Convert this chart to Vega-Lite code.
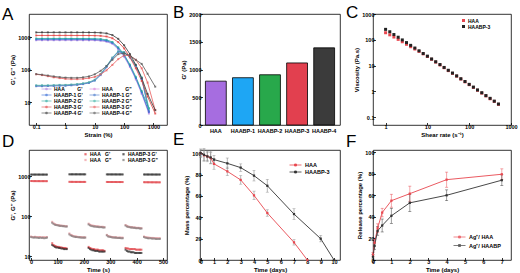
{
 "$schema": "https://vega.github.io/schema/vega-lite/v6.json",
 "background": "white",
 "padding": {"left": 1, "top": 3, "right": 0, "bottom": 0},
 "columns": 3,
 "bounds": "flush",
 "spacing": {"row": 25, "column": 33},
 "resolve": {"scale": {"color": "independent"}, "legend": {"color": "independent"}},
 "config": {
  "font": "Liberation Sans",
  "view": {"stroke": "#000", "strokeWidth": 0.8},
  "axis": {"grid": false, "domain": false, "tickColor": "#000", "tickSize": -2.5, "tickWidth": 0.8, "labelFontSize": 5.5, "labelFontWeight": "bold", "labelColor": "#000", "labelPadding": 1.5, "labelFlush": false, "labelOverlap": false, "titleFontSize": 6, "titleFontWeight": "bold", "titleColor": "#000", "titlePadding": 2},
  "legend": {"labelFontSize": 5, "labelFontWeight": "bold", "labelColor": "#000", "padding": 0, "rowPadding": 0, "columnPadding": 3, "symbolStrokeWidth": 0.8, "labelOffset": 2},
  "title": {"fontSize": 17, "fontWeight": "normal", "anchor": "start", "frame": "group", "dx": -27, "dy": 14, "offset": 0, "color": "#000"}
 },
 "concat": [
  {
   "width": 138, "height": 111,
   "title": {"text": "A"},
   "data": {"values": [
    {"x":0.1,"a1":800,"a2":32,"b1":850,"b2":31,"c1":905,"c2":33,"d1":1120,"d2":72,"e1":1390,"e2":73},
    {"x":0.158,"a1":801,"a2":32,"b1":851,"b2":31,"c1":904,"c2":33,"d1":1121,"d2":68,"e1":1391,"e2":70},
    {"x":0.251,"a1":800,"a2":32,"b1":850,"b2":31.5,"c1":905,"c2":33,"d1":1119,"d2":63,"e1":1389,"e2":66},
    {"x":0.398,"a1":799,"a2":32.5,"b1":849,"b2":31.5,"c1":904,"c2":33.5,"d1":1120,"d2":58,"e1":1390,"e2":62},
    {"x":0.631,"a1":800,"a2":33,"b1":850,"b2":32,"c1":905,"c2":34,"d1":1121,"d2":55,"e1":1391,"e2":59},
    {"x":1,"a1":800,"a2":33,"b1":850,"b2":32,"c1":904,"c2":34,"d1":1120,"d2":52,"e1":1390,"e2":57},
    {"x":1.58,"a1":799,"a2":34,"b1":849,"b2":33,"c1":903,"c2":35,"d1":1119,"d2":51,"e1":1389,"e2":56},
    {"x":2.51,"a1":798,"a2":35,"b1":848,"b2":34,"c1":902,"c2":36,"d1":1118,"d2":51,"e1":1388,"e2":56},
    {"x":3.98,"a1":797,"a2":37,"b1":847,"b2":36,"c1":901,"c2":38,"d1":1117,"d2":52,"e1":1387,"e2":58},
    {"x":6.31,"a1":795,"a2":40,"b1":845,"b2":39,"c1":899,"c2":41,"d1":1115,"d2":55,"e1":1384,"e2":62},
    {"x":10,"a1":790,"a2":48,"b1":840,"b2":46,"c1":893,"c2":49,"d1":1108,"d2":60,"e1":1378,"e2":72},
    {"x":15.8,"a1":770,"a2":72,"b1":818,"b2":68,"c1":872,"c2":74,"d1":1090,"d2":72,"e1":1358,"e2":92},
    {"x":25.1,"a1":720,"a2":125,"b1":768,"b2":118,"c1":820,"c2":128,"d1":1040,"d2":95,"e1":1300,"e2":130},
    {"x":39.8,"a1":620,"a2":230,"b1":662,"b2":220,"c1":705,"c2":235,"d1":920,"d2":140,"e1":1150,"e2":200},
    {"x":63.1,"a1":420,"a2":360,"b1":452,"b2":350,"c1":485,"c2":365,"d1":700,"d2":210,"e1":880,"e2":300},
    {"x":100,"a1":250,"a2":340,"b1":272,"b2":335,"c1":292,"c2":345,"d1":450,"d2":275,"e1":560,"e2":320},
    {"x":158,"a1":120,"a2":240,"b1":132,"b2":238,"c1":142,"c2":245,"d1":240,"d2":270,"e1":300,"e2":270},
    {"x":251,"a1":50,"a2":130,"b1":55,"b2":128,"c1":60,"c2":135,"d1":110,"d2":200,"e1":140,"e2":200},
    {"x":398,"a1":18,"a2":55,"b1":20,"b2":52,"c1":22,"c2":58,"d1":45,"d2":110,"e1":55,"e2":150},
    {"x":631,"a1":null,"a2":null,"b1":null,"b2":null,"c1":null,"c2":null,"d1":15,"d2":40,"e1":18,"e2":75},
    {"x":700,"a1":4.5,"a2":5,"b1":5,"b2":5.5,"c1":6.4,"c2":6.5,"d1":null,"d2":null,"e1":null,"e2":null},
    {"x":1150,"a1":null,"a2":null,"b1":null,"b2":null,"c1":null,"c2":null,"d1":4.5,"d2":5.7,"e1":5.7,"e2":30}
   ]},
   "transform": [
    {"fold": ["a1","a2","b1","b2","c1","c2","d1","d2","e1","e2"], "as": ["k","v"]},
    {"filter": "isValid(datum.v)"},
    {"lookup": "k", "from": {"data": {"values": [
     {"k":"a1","n":"HAA\u00a0\u00a0\u00a0\u00a0\u00a0\u00a0\u00a0\u00a0\u00a0G'"},
     {"k":"a2","n":"HAA\u00a0\u00a0\u00a0\u00a0\u00a0\u00a0\u00a0\u00a0\u00a0G\""},
     {"k":"b1","n":"HAABP-1 G'"},
     {"k":"b2","n":"HAABP-1 G\""},
     {"k":"c1","n":"HAABP-2 G'"},
     {"k":"c2","n":"HAABP-2 G\""},
     {"k":"d1","n":"HAABP-3 G'"},
     {"k":"d2","n":"HAABP-3 G\""},
     {"k":"e1","n":"HAABP-4 G'"},
     {"k":"e2","n":"HAABP-4 G\""}
    ]}, "key": "k", "fields": ["n"]}}
   ],
   "encoding": {
    "x": {"field": "x", "type": "quantitative", "scale": {"type": "log", "domain": [0.057, 2900], "nice": false}, "axis": {"values": [0.1, 1, 10, 100, 1000], "format": "~g", "title": "Strain (%)"}},
    "y": {"field": "v", "type": "quantitative", "scale": {"type": "log", "domain": [2, 5100], "nice": false}, "axis": {"values": [10, 100, 1000], "format": "~g", "title": "G', G\" (Pa)"}},
    "color": {"field": "n", "type": "nominal", "scale": {"domain": ["HAA\u00a0\u00a0\u00a0\u00a0\u00a0\u00a0\u00a0\u00a0\u00a0G'", "HAA\u00a0\u00a0\u00a0\u00a0\u00a0\u00a0\u00a0\u00a0\u00a0G\"", "HAABP-1 G'", "HAABP-1 G\"", "HAABP-2 G'", "HAABP-2 G\"", "HAABP-3 G'", "HAABP-3 G\"", "HAABP-4 G'", "HAABP-4 G\""], "range": ["#a77fe0", "#d97fd9", "#2a63d4", "#3f72c9", "#1fa59a", "#3bb3a5", "#e03c3c", "#e85a5a", "#333333", "#555555"]}, "legend": {"title": null, "orient": "none", "legendX": 14.5, "legendY": 72, "columns": 2, "direction": "horizontal", "symbolType": "M-2,0H2M-0.3,-0.3H0.3V0.3H-0.3Z", "symbolSize": 25, "labelOffset": 4.5, "labelFontSize": 5, "rowPadding": 0, "columnPadding": 4}}
   },
   "layer": [
    {"mark": {"type": "line", "strokeWidth": 0.8, "clip": true}},
    {"mark": {"type": "point", "shape": "square", "size": 4, "filled": true, "clip": true}}
   ]
  },
  {
   "width": 140, "height": 111,
   "title": {"text": "B"},
   "data": {"values": [{"s":"HAA","g":790},{"s":"HAABP-1","g":852},{"s":"HAABP-2","g":905},{"s":"HAABP-3","g":1118},{"s":"HAABP-4","g":1390}]},
   "mark": {"type": "bar", "stroke": "#000", "strokeWidth": 0.8},
   "encoding": {
    "x": {"field": "s", "type": "nominal", "sort": null, "scale": {"paddingInner": 0.23, "paddingOuter": 0.2}, "axis": {"title": null, "labelAngle": 0, "ticks": false, "labelPadding": 3}},
    "y": {"field": "g", "type": "quantitative", "scale": {"domain": [0, 2000], "nice": false}, "axis": {"values": [0, 500, 1000, 1500, 2000], "format": "d", "title": "G' (Pa)"}},
    "color": {"field": "s", "type": "nominal", "sort": null, "scale": {"range": ["#a66de0", "#1ea6f4", "#28a84b", "#e2404f", "#3b3b3b"]}, "legend": null}
   }
  },
  {
   "width": 138, "height": 111,
   "title": {"text": "C"},
   "data": {"values": [
    {"x":1,"HAA":188,"HAABP-3":254},
    {"x":1.26,"HAA":156,"HAABP-3":205},
    {"x":1.58,"HAA":128,"HAABP-3":160},
    {"x":2,"HAA":104,"HAABP-3":126},
    {"x":2.51,"HAA":84,"HAABP-3":99},
    {"x":3.16,"HAA":67,"HAABP-3":78},
    {"x":3.98,"HAA":54,"HAABP-3":61},
    {"x":5.01,"HAA":44,"HAABP-3":48},
    {"x":6.31,"HAA":35.5,"HAABP-3":37.5},
    {"x":7.94,"HAA":28.5,"HAABP-3":29.5},
    {"x":10,"HAA":22.5,"HAABP-3":23.3},
    {"x":12.6,"HAA":17.6,"HAABP-3":18.1},
    {"x":15.8,"HAA":13.7,"HAABP-3":14.1},
    {"x":20,"HAA":10.6,"HAABP-3":11},
    {"x":25.1,"HAA":8.3,"HAABP-3":8.5},
    {"x":31.6,"HAA":6.4,"HAABP-3":6.6},
    {"x":39.8,"HAA":5,"HAABP-3":5.15},
    {"x":50.1,"HAA":3.9,"HAABP-3":4},
    {"x":63.1,"HAA":3.02,"HAABP-3":3.1},
    {"x":79.4,"HAA":2.35,"HAABP-3":2.42},
    {"x":100,"HAA":1.83,"HAABP-3":1.88},
    {"x":126,"HAA":1.43,"HAABP-3":1.47},
    {"x":158,"HAA":1.11,"HAABP-3":1.14},
    {"x":200,"HAA":0.86,"HAABP-3":0.89},
    {"x":251,"HAA":0.67,"HAABP-3":0.69},
    {"x":316,"HAA":0.52,"HAABP-3":0.54},
    {"x":398,"HAA":0.41,"HAABP-3":0.42},
    {"x":501,"HAA":0.315,"HAABP-3":0.325}
   ]},
   "transform": [{"fold": ["HAA", "HAABP-3"], "as": ["s", "v"]}],
   "mark": {"type": "square", "size": 9, "opacity": 1},
   "encoding": {
    "x": {"field": "x", "type": "quantitative", "scale": {"type": "log", "domain": [0.5, 1000], "nice": false}, "axis": {"values": [1, 10, 100, 1000], "format": "~g", "title": "Shear rate (s⁻¹)"}},
    "y": {"field": "v", "type": "quantitative", "scale": {"type": "log", "domain": [0.05, 1000], "nice": false}, "axis": {"values": [0.1, 1, 10, 100, 1000], "format": "~g", "title": "Viscosity (Pa.s)"}},
    "color": {"field": "s", "type": "nominal", "scale": {"domain": ["HAA", "HAABP-3"], "range": ["#e8474f", "#222222"]}, "legend": {"title": null, "orient": "none", "legendX": 88, "legendY": 4, "symbolType": "square", "symbolSize": 9, "labelFontSize": 5}}
   }
  },
  {
   "width": 138, "height": 110,
   "title": {"text": "D", "dy": 5},
   "data": {"values": [
    {"t":0,"a":755,"b":31,"c":1095,"d":30},
    {"t":5,"a":752,"b":30,"c":1092,"d":29.5},
    {"t":10,"a":750,"b":30,"c":1094,"d":29},
    {"t":15,"a":752,"b":30.5,"c":1093,"d":29.5},
    {"t":20,"a":749,"b":30,"c":1095,"d":29},
    {"t":25,"a":750,"b":29.5,"c":1092,"d":29},
    {"t":30,"a":751,"b":30,"c":1094,"d":28.5},
    {"t":35,"a":748,"b":30,"c":1093,"d":29},
    {"t":40,"a":750,"b":29.5,"c":1092,"d":28.5},
    {"t":45,"a":749,"b":29,"c":1094,"d":29},
    {"t":50,"a":750,"b":30,"c":1093,"d":28},
    {"t":55,"a":748,"b":29.5,"c":1092,"d":28.5},
    {"t":60,"a":749,"b":30,"c":1093,"d":29},
    {"t":80,"a":21,"b":72,"c":19,"d":68},
    {"t":85,"a":19,"b":66,"c":18,"d":64},
    {"t":90,"a":18,"b":63,"c":17,"d":61},
    {"t":95,"a":17.5,"b":61,"c":16.5,"d":60},
    {"t":100,"a":17,"b":60,"c":16.5,"d":59},
    {"t":105,"a":17,"b":59,"c":16,"d":58},
    {"t":110,"a":16.5,"b":58,"c":16,"d":57},
    {"t":115,"a":16.5,"b":58,"c":15.5,"d":57},
    {"t":120,"a":16,"b":57,"c":15.5,"d":56},
    {"t":125,"a":16,"b":57,"c":15,"d":56},
    {"t":130,"a":16,"b":56,"c":15,"d":55},
    {"t":135,"a":15.5,"b":56,"c":15,"d":55},
    {"t":145,"a":720,"b":37,"c":1110,"d":35},
    {"t":150,"a":718,"b":34,"c":1108,"d":33},
    {"t":155,"a":719,"b":33,"c":1110,"d":32},
    {"t":160,"a":717,"b":32,"c":1109,"d":31},
    {"t":165,"a":718,"b":31,"c":1108,"d":30.5},
    {"t":170,"a":716,"b":31,"c":1110,"d":30},
    {"t":175,"a":717,"b":30.5,"c":1109,"d":30},
    {"t":180,"a":718,"b":30,"c":1108,"d":29.5},
    {"t":185,"a":716,"b":30,"c":1109,"d":29.5},
    {"t":190,"a":717,"b":30,"c":1108,"d":29},
    {"t":195,"a":716,"b":29.5,"c":1109,"d":29},
    {"t":200,"a":717,"b":29.5,"c":1108,"d":29},
    {"t":205,"a":716,"b":29.5,"c":1108,"d":29},
    {"t":218,"a":17,"b":65,"c":16,"d":62},
    {"t":223,"a":16,"b":61,"c":15,"d":59},
    {"t":228,"a":15.5,"b":59,"c":14.5,"d":57},
    {"t":233,"a":15,"b":58,"c":14,"d":56},
    {"t":238,"a":15,"b":57,"c":14,"d":55},
    {"t":243,"a":14.5,"b":56,"c":13.5,"d":55},
    {"t":248,"a":14.5,"b":56,"c":13.5,"d":54},
    {"t":253,"a":14.5,"b":55,"c":13.5,"d":54},
    {"t":258,"a":14,"b":55,"c":13,"d":53},
    {"t":263,"a":14,"b":54,"c":13,"d":53},
    {"t":268,"a":14,"b":54,"c":13,"d":53},
    {"t":273,"a":14,"b":54,"c":13,"d":52},
    {"t":278,"a":13.5,"b":53,"c":13,"d":52},
    {"t":287,"a":715,"b":34,"c":1105,"d":33},
    {"t":292,"a":713,"b":32,"c":1104,"d":31},
    {"t":297,"a":714,"b":31,"c":1105,"d":30.5},
    {"t":302,"a":712,"b":30.5,"c":1103,"d":30},
    {"t":307,"a":713,"b":30,"c":1104,"d":29.5},
    {"t":312,"a":712,"b":30,"c":1103,"d":29},
    {"t":317,"a":713,"b":29.5,"c":1104,"d":29},
    {"t":322,"a":712,"b":29.5,"c":1103,"d":29},
    {"t":327,"a":711,"b":29,"c":1102,"d":28.5},
    {"t":332,"a":712,"b":29,"c":1103,"d":28.5},
    {"t":337,"a":711,"b":29,"c":1102,"d":28.5},
    {"t":342,"a":712,"b":29,"c":1103,"d":28},
    {"t":347,"a":711,"b":29,"c":1102,"d":28},
    {"t":358,"a":16,"b":60,"c":14.5,"d":58},
    {"t":363,"a":15.5,"b":57,"c":13.5,"d":55},
    {"t":368,"a":15.5,"b":55,"c":13,"d":54},
    {"t":373,"a":15,"b":54,"c":13,"d":53},
    {"t":378,"a":15,"b":53,"c":12.5,"d":52},
    {"t":383,"a":15,"b":53,"c":12.5,"d":52},
    {"t":388,"a":15,"b":52,"c":12.5,"d":51},
    {"t":393,"a":15,"b":52,"c":12,"d":51},
    {"t":398,"a":14.5,"b":51,"c":12,"d":50},
    {"t":403,"a":14.5,"b":51,"c":12,"d":50},
    {"t":408,"a":14.5,"b":51,"c":12,"d":50},
    {"t":413,"a":14.5,"b":50,"c":12,"d":49},
    {"t":418,"a":14.5,"b":50,"c":12,"d":49},
    {"t":428,"a":705,"b":31,"c":1100,"d":30},
    {"t":433,"a":703,"b":30,"c":1098,"d":29},
    {"t":438,"a":704,"b":29.5,"c":1099,"d":28.5},
    {"t":443,"a":702,"b":29,"c":1097,"d":28},
    {"t":448,"a":703,"b":29,"c":1098,"d":28},
    {"t":453,"a":702,"b":28.5,"c":1097,"d":28},
    {"t":458,"a":701,"b":28.5,"c":1098,"d":27.5},
    {"t":463,"a":702,"b":28.5,"c":1097,"d":27.5},
    {"t":468,"a":701,"b":28,"c":1096,"d":27.5},
    {"t":473,"a":700,"b":28,"c":1097,"d":27},
    {"t":478,"a":701,"b":28,"c":1096,"d":27},
    {"t":483,"a":700,"b":28,"c":1097,"d":27},
    {"t":488,"a":700,"b":28,"c":1096,"d":27}
   ]},
   "transform": [
    {"fold": ["a","b","c","d"], "as": ["k","v"]},
    {"lookup": "k", "from": {"data": {"values": [
     {"k":"a","n":"HAA\u00a0\u00a0\u00a0G'"},
     {"k":"b","n":"HAA\u00a0\u00a0\u00a0G\""},
     {"k":"c","n":"HAABP-3 G'"},
     {"k":"d","n":"HAABP-3 G\""}
    ]}, "key": "k", "fields": ["n"]}}
   ],
   "mark": {"type": "square", "size": 4},
   "encoding": {
    "x": {"field": "t", "type": "quantitative", "scale": {"domain": [-8, 515], "nice": false}, "axis": {"values": [0, 100, 200, 300, 400, 500], "title": "Time (s)"}},
    "y": {"field": "v", "type": "quantitative", "scale": {"type": "log", "domain": [8, 4500], "nice": false}, "axis": {"values": [10, 100, 1000], "format": "~g", "title": "G', G\" (Pa)"}},
    "color": {"field": "n", "type": "nominal", "scale": {"domain": ["HAA\u00a0\u00a0\u00a0G'", "HAABP-3 G'", "HAA\u00a0\u00a0\u00a0G\"", "HAABP-3 G\""], "range": ["#e0393e", "#222222", "#f09aa0", "#777777"]}, "legend": {"title": null, "orient": "none", "legendX": 54, "legendY": 1.5, "columns": 2, "direction": "horizontal", "symbolType": "square", "symbolSize": 5, "labelFontSize": 5, "columnPadding": 9, "rowPadding": 0}}
   }
  },
  {
   "width": 140, "height": 110,
   "title": {"text": "E", "dy": 5},
   "data": {"values": [
    {"s":"HAA","t":0,"m":100,"e":3},
    {"s":"HAA","t":0.25,"m":98,"e":5},
    {"s":"HAA","t":0.5,"m":97,"e":4},
    {"s":"HAA","t":0.75,"m":95.5,"e":5},
    {"s":"HAA","t":1,"m":90,"e":5},
    {"s":"HAA","t":2,"m":83,"e":4},
    {"s":"HAA","t":3,"m":75,"e":4},
    {"s":"HAA","t":4,"m":60.5,"e":4},
    {"s":"HAA","t":5,"m":44,"e":3},
    {"s":"HAA","t":7,"m":16.5,"e":2.5},
    {"s":"HAA","t":8,"m":0,"e":0},
    {"s":"HAABP-3","t":0,"m":100,"e":4},
    {"s":"HAABP-3","t":0.25,"m":98.5,"e":6},
    {"s":"HAABP-3","t":0.5,"m":97,"e":5},
    {"s":"HAABP-3","t":0.75,"m":96,"e":6},
    {"s":"HAABP-3","t":1,"m":94,"e":4},
    {"s":"HAABP-3","t":2,"m":90.5,"e":5},
    {"s":"HAABP-3","t":3,"m":86.5,"e":3.5},
    {"s":"HAABP-3","t":4,"m":79,"e":5},
    {"s":"HAABP-3","t":5,"m":69.5,"e":6},
    {"s":"HAABP-3","t":7,"m":43,"e":5},
    {"s":"HAABP-3","t":9,"m":20,"e":3},
    {"s":"HAABP-3","t":10,"m":0,"e":0}
   ]},
   "encoding": {
    "x": {"field": "t", "type": "quantitative", "scale": {"domain": [-0.05, 10.45], "nice": false}, "axis": {"values": [0,1,2,3,4,5,6,7,8,9,10], "title": "Time (days)"}},
    "y": {"field": "m", "type": "quantitative", "scale": {"domain": [0, 103], "nice": false}, "axis": {"values": [0,20,40,60,80,100], "title": "Mass percentage (%)"}}
   },
   "layer": [
    {"mark": {"type": "errorbar", "ticks": {"size": 3}, "color": "#888888", "thickness": 0.6}, "encoding": {"yError": {"field": "e"}, "detail": {"field": "s"}}},
    {"mark": {"type": "line", "strokeWidth": 0.9}, "encoding": {"color": {"field": "s", "type": "nominal", "scale": {"domain": ["HAA", "HAABP-3"], "range": ["#e8474f", "#333333"]}, "legend": {"title": null, "orient": "none", "legendX": 92.5, "legendY": 12, "symbolType": "M-2.4,0H2.4M-0.4,-0.4H0.4V0.4H-0.4Z", "symbolSize": 25, "labelOffset": 6.5, "labelFontSize": 5.5, "rowPadding": 0}}}},
    {"mark": {"type": "square", "size": 5, "opacity": 1}, "encoding": {"color": {"field": "s", "type": "nominal"}}}
   ]
  },
  {
   "width": 138, "height": 110,
   "title": {"text": "F", "dy": 5},
   "data": {"values": [
    {"s":"Ag⁺/ HAA","t":0,"m":5,"e":2},
    {"s":"Ag⁺/ HAA","t":0.083,"m":16,"e":3},
    {"s":"Ag⁺/ HAA","t":0.25,"m":29.5,"e":4},
    {"s":"Ag⁺/ HAA","t":0.5,"m":44,"e":4},
    {"s":"Ag⁺/ HAA","t":1,"m":55,"e":6},
    {"s":"Ag⁺/ HAA","t":2,"m":61.5,"e":7},
    {"s":"Ag⁺/ HAA","t":4,"m":74.5,"e":7},
    {"s":"Ag⁺/ HAA","t":7,"m":79.5,"e":5},
    {"s":"Ag⁺/ HAABP","t":0,"m":3,"e":2},
    {"s":"Ag⁺/ HAABP","t":0.083,"m":13,"e":3},
    {"s":"Ag⁺/ HAABP","t":0.25,"m":27,"e":4},
    {"s":"Ag⁺/ HAABP","t":0.5,"m":32,"e":6},
    {"s":"Ag⁺/ HAABP","t":1,"m":41,"e":7},
    {"s":"Ag⁺/ HAABP","t":2,"m":53,"e":8},
    {"s":"Ag⁺/ HAABP","t":4,"m":60,"e":5},
    {"s":"Ag⁺/ HAABP","t":7,"m":74,"e":5}
   ]},
   "encoding": {
    "x": {"field": "t", "type": "quantitative", "scale": {"domain": [0, 7.5], "nice": false}, "axis": {"values": [0,1,2,3,4,5,6,7], "title": "Time (days)"}},
    "y": {"field": "m", "type": "quantitative", "scale": {"domain": [0, 102], "nice": false}, "axis": {"values": [0,20,40,60,80,100], "title": "Release percentage (%)"}},
    "color": {"field": "s", "type": "nominal", "scale": {"domain": ["Ag⁺/ HAA", "Ag⁺/ HAABP"], "range": ["#e8474f", "#333333"]}, "legend": {"title": null, "orient": "none", "legendX": 83.5, "legendY": 84, "symbolType": "M-2.4,0H2.4M-0.4,-0.4H0.4V0.4H-0.4Z", "symbolSize": 25, "labelOffset": 6.5, "labelFontSize": 5.5, "rowPadding": 1.5}}
   },
   "layer": [
    {"mark": {"type": "errorbar", "ticks": {"size": 3}, "thickness": 0.6, "opacity": 0.8}, "encoding": {"yError": {"field": "e"}}},
    {"mark": {"type": "line", "strokeWidth": 0.9}},
    {"mark": {"type": "square", "size": 5, "opacity": 1}}
   ]
  }
 ]
}
